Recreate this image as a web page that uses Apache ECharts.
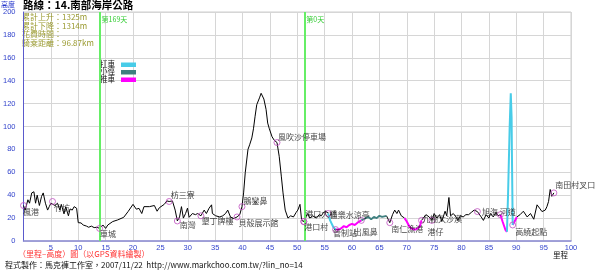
<!DOCTYPE html>
<html><head><meta charset="utf-8">
<script src="https://cdn.jsdelivr.net/npm/echarts@6/dist/echarts.min.js"></script>
<style>html,body{margin:0;padding:0;background:#fff}#c{width:600px;height:270px}</style>
</head><body><div id="c"></div>
<script>
// ---- data ----
const km = [0,0.3,0.8,1.1,1.5,1.9,2.2,2.5,2.9,3.3,3.6,4.0,4.4,4.7,5.0,5.3,5.75,6.2,6.65,6.9,7.4,7.7,8.2,8.5,8.9,9.25,9.7,10.0,10.5,10.9,11.5,11.9,12.4,12.9,13.4,13.9,14.5,15.0,15.4,16.3,17.2,18.3,19.1,20.0,20.6,21.1,21.6,22.0,23.0,23.9,24.4,24.8,25.1,25.7,26.2,26.6,27.2,27.7,28.1,28.5,28.85,29.2,29.6,29.95,30.25,30.85,31.4,31.8,32.4,33.0,33.4,33.9,34.35,34.5,35.1,35.85,36.4,36.9,37.3,37.5,37.8,38.4,39.0,39.5,39.9,40.2,40.5,41.0,41.3,41.7,42.0,42.3,42.6,43.1,43.4,43.9,44.3,44.6,44.9,45.4,45.8,46.3,46.7,47.1,47.4,47.8,48.3,48.8,49.3,49.8,50.1,50.5,50.8,51.2,51.5,51.9,52.3,52.8,53.5,54.0,54.4,54.8,55.3,55.65,
  56.0,56.6,57.0,
  57.5,58.0,58.5,59.0,59.5,60.0,60.5,61.0,61.7,
  62.0,62.5,63.0,63.5,64.0,64.5,65.0,65.5,66.3,
  66.9,67.4,67.8,68.2,68.5,69.0,69.6,
  70.0,70.5,71.0,71.5,72.0,72.4,72.7,
  73.0,73.5,74.1,74.6,75.0,75.5,76.0,76.4,77.0,77.3,77.7,78.0,78.5,79.0,79.3,79.8,80.3,80.8,81.3,81.8,82.3,82.9,83.6,84.0,84.5,85.0,85.3,85.8,86.3,86.7,87.1,
  87.5,88.0,88.3,
  88.5,88.8,89.0,89.15,89.2,89.35,
  89.7,90.1,
  90.7,91.3,92.0,92.6,93.2,93.8,94.25,94.7,95.3,95.6,95.9,96.2,96.5,96.87];
const elev = [31,27,36,33,42,43,33,40,31,39,42,33,27,30,33,34.5,31,33,27,32,23.7,30,22,28,27,30,28.6,16,15.8,14,13,12,13,11.7,12,11,14,11,14,17,18.4,20.7,25.7,32,27.8,28.5,24,30,30,31,26,29,28,32,35,34.5,35,27,17.5,21,30,20,24,28.7,20.7,24,23,24,22,27,24,28.7,31.6,24,22,21,22,24,27,27,21,19.6,21,23,30,42,59.6,80,84,90,98,109,119,125,129,124,115,103,98,91,88,86,74,56,42,27,20,22,21,25,27,32,18,17,21,24,20,22,20,23,22,25,26,24,
  18,12,10,
  10,11,13,12,14,15,14,16,18,
  17,20,21,19,21,20,22,21,22,
  16,23,27,24,27,22,20,
  17,12.5,10.5,10,11,13,18,
  17,23,21,18,24,20,23,17,26,22,38,22,24,21,18,22,21,23,23,25,27,25.7,21,18,23,20,24,21,25,22,23,
  17,10,8,
  40,100,129,108,80,14,
  17,21,
  23,26,21,24,19,31.6,28.7,25.7,27,30,34.5,45,39,42];
// travel mode of the stretch ending at each point: r=ride, c=carry(扛車), t=trail(小徑), p=push(推車)
const mode = (
  'r'.repeat(124) + 'c'.repeat(3) + 'p'.repeat(9) + 't'.repeat(9) + 'r'.repeat(7) + 'p'.repeat(7) +
  'r'.repeat(31) + 'p'.repeat(3) + 'c'.repeat(6) + 'p'.repeat(2) + 'r'.repeat(14)
).split('');
const placeKm   = [0,5.3,13.9,26.6,28.1,32.4,39.0,39.9,46.3,51.2,51.2,55.65,57.0,61.7,66.9,72.7,74.6,82.9,87.1,89.35,96.87];
const placeElev = [31,34.5,11,34.5,17.5,22,21,30,86,17,17,24,10,18,16,18,18,25.7,23,14,42];
const placeName = ['楓港','竹坑','車城','枋三寮','南灣','墾丁牌樓','貝殼展示館','鵝鑾鼻','風吹沙停車場','港口村','港口大橋','佳樂水涼亭','管制站','出風鼻','南仁漁港','九棚大沙漠','港仔','旭海','河道','高繞起點','南田村叉口'];
const dayKm = [13.9, 51.3];
const dayName = ['第169天', '第0天'];
const statLines = ['累計上升：1325m','累計下降：1314m','花費時間：','騎乘距離：96.87km'];
const legendNames = ['扛車','小徑','推車'];

// ---- styles (label offsets in px: left edge dx, vertical centre dy) ----
const labelOff = [[0,7],[2,7],[1,6],[2,-6],[3,4],[1,6],[2,6],[2,-5],[1.5,-5],[1,6],[2,-7.5],[2,1.5],[-2,4],[-7,12],[2,7],[1,-1],[-4,12],[5,1],[0,-2],[3,7],[2,-7]];
const modeColor = {r:'#000000', t:'#3f8080', p:'#ff00ff', c:'#48cce8'};
const modeWidth = {r:1, t:1.8, p:2, c:2};
const FONT = '"Noto Sans CJK TC", "Noto Sans", sans-serif';

function segData(t){
  const d = [];
  for (let i = 0; i < km.length; i++) {
    const inc = mode[i] === t || (i + 1 < km.length && mode[i + 1] === t);
    d.push(inc ? [km[i], elev[i]] : [km[i], '-']);
  }
  return d;
}
const lineSeries = ['r','t','p','c'].map((t, k) => ({
  type:'line', data: segData(t), showSymbol:false, symbol:'none', connectNulls:false,
  lineStyle:{color:modeColor[t], width:modeWidth[t]}, z: 3 + k, silent:true,
  markLine: t === 'r' ? {
    silent:true, symbol:'none', label:{show:false},
    lineStyle:{color:'#66ee66', width:2, type:'solid'},
    data: dayKm.map(v => ({xAxis:v}))
  } : undefined
}));

const chart = echarts.init(document.getElementById('c'), null, {renderer:'canvas'});
const axisLbl = {color:'#3344cc', fontSize:7.5, fontFamily:'"Liberation Sans", Arial, sans-serif'};
chart.setOption({
  animation:false,
  grid:{left:20, right:29, top:12, bottom:29, show:true, borderColor:'#cfcfcf', borderWidth:1},
  xAxis:{type:'value', min:0, max:100, interval:5,
    axisLine:{show:true, onZero:false, lineStyle:{color:'#8c8cd6', width:1.5}},
    axisTick:{show:false},
    splitLine:{show:true, lineStyle:{color:'#d6d6d6', width:1}},
    axisLabel:Object.assign({margin:3, formatter:v => v === 0 ? '' : String(v)}, axisLbl)},
  yAxis:{type:'value', min:0, max:200, interval:20,
    axisLine:{show:true, lineStyle:{color:'#5a5acc', width:1}},
    axisTick:{show:false},
    splitLine:{show:true, lineStyle:{color:'#d6d6d6', width:1}},
    axisLabel:Object.assign({margin:8}, axisLbl)},
  series: lineSeries.concat([{
    type:'scatter', z:10, silent:true,
    symbol:'circle', symbolSize:6,
    itemStyle:{color:'rgba(0,0,0,0)', borderColor:'#c050c0', borderWidth:1},
    data: placeKm.map((v, i) => ({
      value:[v, placeElev[i]],
      label:{show:true, formatter:placeName[i], position:[3 + labelOff[i][0], 3 + labelOff[i][1]],
        align:'left', verticalAlign:'middle', color:'#111', fontSize:8, fontFamily:FONT}
    }))
  }])
});

// ---- texts ----
const g = [];
g.push({type:'text', left:1, top:1, style:{text:'高度', fill:'#2233cc', font:'7px '+FONT}});
g.push({type:'text', left:23, top:0, style:{text:'路線：14.南部海岸公路', fill:'#000', font:'bold 10.5px '+FONT}});
statLines.forEach((s, i) => g.push({type:'text', left:22, top:13 + i * 8.5,
  style:{text:s, fill:'#9a9a30', font:'8px '+FONT}}));
const lgColors = [modeColor.c, modeColor.t, modeColor.p];
legendNames.forEach((s, i) => {
  g.push({type:'text', left:100, top:60 + i * 7.5, style:{text:s, fill:'#111', font:'7.5px '+FONT}});
  g.push({type:'rect', shape:{x:121, y:62.5 + i * 7.5, width:15, height:4.5}, style:{fill:lgColors[i]}});
});
dayKm.forEach((v, i) => {
  const p = chart.convertToPixel({gridIndex:0}, [v, 200]);
  g.push({type:'text', x:p[0] + 2, y:p[1] + 4, style:{text:dayName[i], fill:'#33cc33', font:'7px '+FONT}});
});
g.push({type:'text', left:553, top:251, style:{text:'里程', fill:'#111', font:'7.5px '+FONT}});
g.push({type:'text', left:18, top:250, style:{text:'（里程–高度）圖（以GPS資料繪製）', fill:'#ff3333', font:'8px '+FONT}});
g.push({type:'text', left:5, top:261, style:{text:'程式製作：馬克褲工作室，2007/11/22  http://www.markchoo.com.tw/?lin_no=14', fill:'#111', font:'8px '+FONT}});
chart.setOption({graphic:g});
</script>
</body></html>
